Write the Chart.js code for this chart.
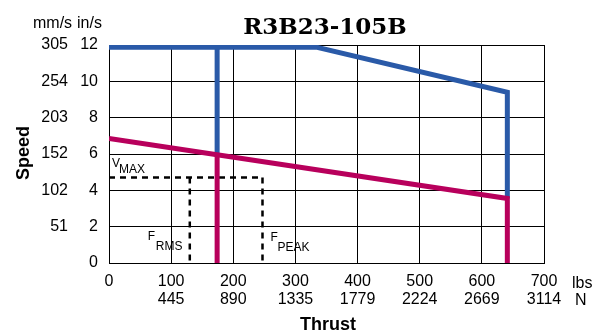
<!DOCTYPE html>
<html><head><meta charset="utf-8">
<script src="https://cdn.jsdelivr.net/npm/chart.js@4"></script>
<style>html,body{margin:0;padding:0;background:#fff}#wrap{width:605px;height:331px;position:relative}</style>
</head><body><div id="wrap"><canvas id="c" width="605" height="331"></canvas></div>
<script>
// Axis ticks
const thrustTicksLbs = [0, 100, 200, 300, 400, 500, 600, 700];
const thrustTicksN = ["", "445", "890", "1335", "1779", "2224", "2669", "3114"];
const speedTicksIn = [0, 2, 4, 6, 8, 10, 12];
const speedTicksMm = ["", "51", "102", "152", "203", "254", "305"];

// Blue curve (thrust lbs / speed in/s)
const blueThrust = [0, 335, 641, 641];
const blueSpeed = [11.87, 11.87, 9.4, 3.55];
const blueDropThrust = [174, 174];
const blueDropSpeed = [11.87, 5.95];

// Magenta curve
const pinkThrust = [0, 641, 641];
const pinkSpeed = [6.85, 3.55, 0];
const pinkDropThrust = [174, 174];
const pinkDropSpeed = [5.95, 0];

// Dashed reference lines
const vmaxThrust = [0, 247];
const vmaxSpeed = [4.7, 4.7];
const frmsThrust = [130, 130];
const frmsSpeed = [4.7, 0];
const fpeakThrust = [247, 247];
const fpeakSpeed = [4.7, 0];

const SANS = "'Liberation Sans', Arial, sans-serif";
const BLUE = '#2a5aa8';
const PINK = '#b8005c';

function pts(xs, ys) { return xs.map((x, i) => ({ x: x, y: ys[i] })); }
function solid(xs, ys, color) {
  return { data: pts(xs, ys), borderColor: color, backgroundColor: color, borderWidth: 5,
    showLine: true, pointRadius: 0, fill: false, tension: 0,
    borderJoinStyle: 'miter', borderCapStyle: 'butt' };
}
function dashed(xs, ys) {
  return { data: pts(xs, ys), borderColor: '#000', borderWidth: 2.5, borderDash: [6, 5],
    showLine: true, pointRadius: 0, fill: false, tension: 0, borderCapStyle: 'butt' };
}

const textPlugin = {
  id: 'texts',
  afterDraw(chart) {
    const ctx = chart.ctx;
    const xs = chart.scales.x, ys = chart.scales.y;
    ctx.save();
    ctx.fillStyle = '#000';
    ctx.textBaseline = 'alphabetic';
    // title
    ctx.font = "bold 23px 'DejaVu Serif', 'Liberation Serif', serif";
    ctx.textAlign = 'center';
    ctx.fillText('R3B23-105B', 325, 34);
    // unit headers
    ctx.font = '16px ' + SANS;
    ctx.textAlign = 'left';
    ctx.fillText('mm/s', 33, 28);
    ctx.fillText('in/s', 77, 28);
    ctx.fillText('lbs', 572, 288);
    ctx.fillText('N', 575, 305);
    // axis titles
    ctx.font = 'bold 18px ' + SANS;
    ctx.textAlign = 'center';
    ctx.fillText('Thrust', 328, 330);
    ctx.save();
    ctx.translate(28.5, 153);
    ctx.rotate(-Math.PI / 2);
    ctx.fillText('Speed', 0, 0);
    ctx.restore();
    // annotation labels
    ctx.textAlign = 'left';
    const vy = ys.getPixelForValue(vmaxSpeed[0]);
    ctx.font = '12px ' + SANS;
    ctx.fillText('V', xs.getPixelForValue(0) + 3, vy - 11);
    ctx.fillText('MAX', xs.getPixelForValue(0) + 10, vy - 5);
    const fx = xs.getPixelForValue(frmsThrust[0]);
    ctx.fillText('F', fx - 42, 240);
    ctx.fillText('RMS', fx - 34, 250);
    const px = xs.getPixelForValue(fpeakThrust[0]);
    ctx.fillText('F', px + 8, 241);
    ctx.fillText('PEAK', px + 15, 251);
    ctx.restore();
  }
};

new Chart(document.getElementById('c'), {
  type: 'scatter',
  data: {
    datasets: [
      solid(pinkThrust, pinkSpeed, PINK),
      solid(pinkDropThrust, pinkDropSpeed, PINK),
      solid(blueThrust, blueSpeed, BLUE),
      solid(blueDropThrust, blueDropSpeed, BLUE),
      dashed(vmaxThrust, vmaxSpeed),
      dashed(frmsThrust, frmsSpeed),
      dashed(fpeakThrust, fpeakSpeed)
    ]
  },
  options: {
    responsive: false,
    animation: false,
    layout: { padding: { left: 0, right: 61, top: 45, bottom: 0 } },
    plugins: { legend: { display: false }, tooltip: { enabled: false }, title: { display: false } },
    scales: {
      x: {
        type: 'linear', position: 'bottom', min: 0, max: 700,
        afterBuildTicks: s => { s.ticks = thrustTicksLbs.map(v => ({ value: v })); },
        ticks: {
          autoSkip: false, maxRotation: 0, padding: 10, color: '#000',
          font: { size: 16, family: SANS, lineHeight: 1.125 },
          callback: v => { const i = thrustTicksLbs.indexOf(v); return i < 0 ? '' : [String(v), thrustTicksN[i]]; }
        },
        grid: { color: '#000', lineWidth: 1, drawTicks: false },
        border: { color: '#000', width: 1 },
        afterFit: s => { s.height = 68; s.paddingLeft = 0; s.paddingRight = 0; }
      },
      y: {
        type: 'linear', position: 'left', weight: 0, min: 0, max: 12,
        afterBuildTicks: s => { s.ticks = speedTicksIn.map(v => ({ value: v })); },
        ticks: { padding: 11, color: '#000', font: { size: 16, family: SANS },
          callback: v => String(v) },
        grid: { color: '#000', lineWidth: 1, drawTicks: false },
        border: { color: '#000', width: 1 },
        afterFit: s => { s.width = 33; s.paddingTop = 0; s.paddingBottom = 0; }
      },
      y2: {
        type: 'linear', position: 'left', weight: 1, min: 0, max: 12,
        afterBuildTicks: s => { s.ticks = speedTicksIn.map(v => ({ value: v })); },
        ticks: { padding: 8, color: '#000', font: { size: 16, family: SANS },
          callback: v => { const i = speedTicksIn.indexOf(v); return i < 0 ? '' : speedTicksMm[i]; } },
        grid: { display: false, drawTicks: false },
        border: { display: false },
        afterFit: s => { s.width = 76; s.paddingTop = 0; s.paddingBottom = 0; }
      }
    }
  },
  plugins: [textPlugin]
});
</script>
</body></html>
